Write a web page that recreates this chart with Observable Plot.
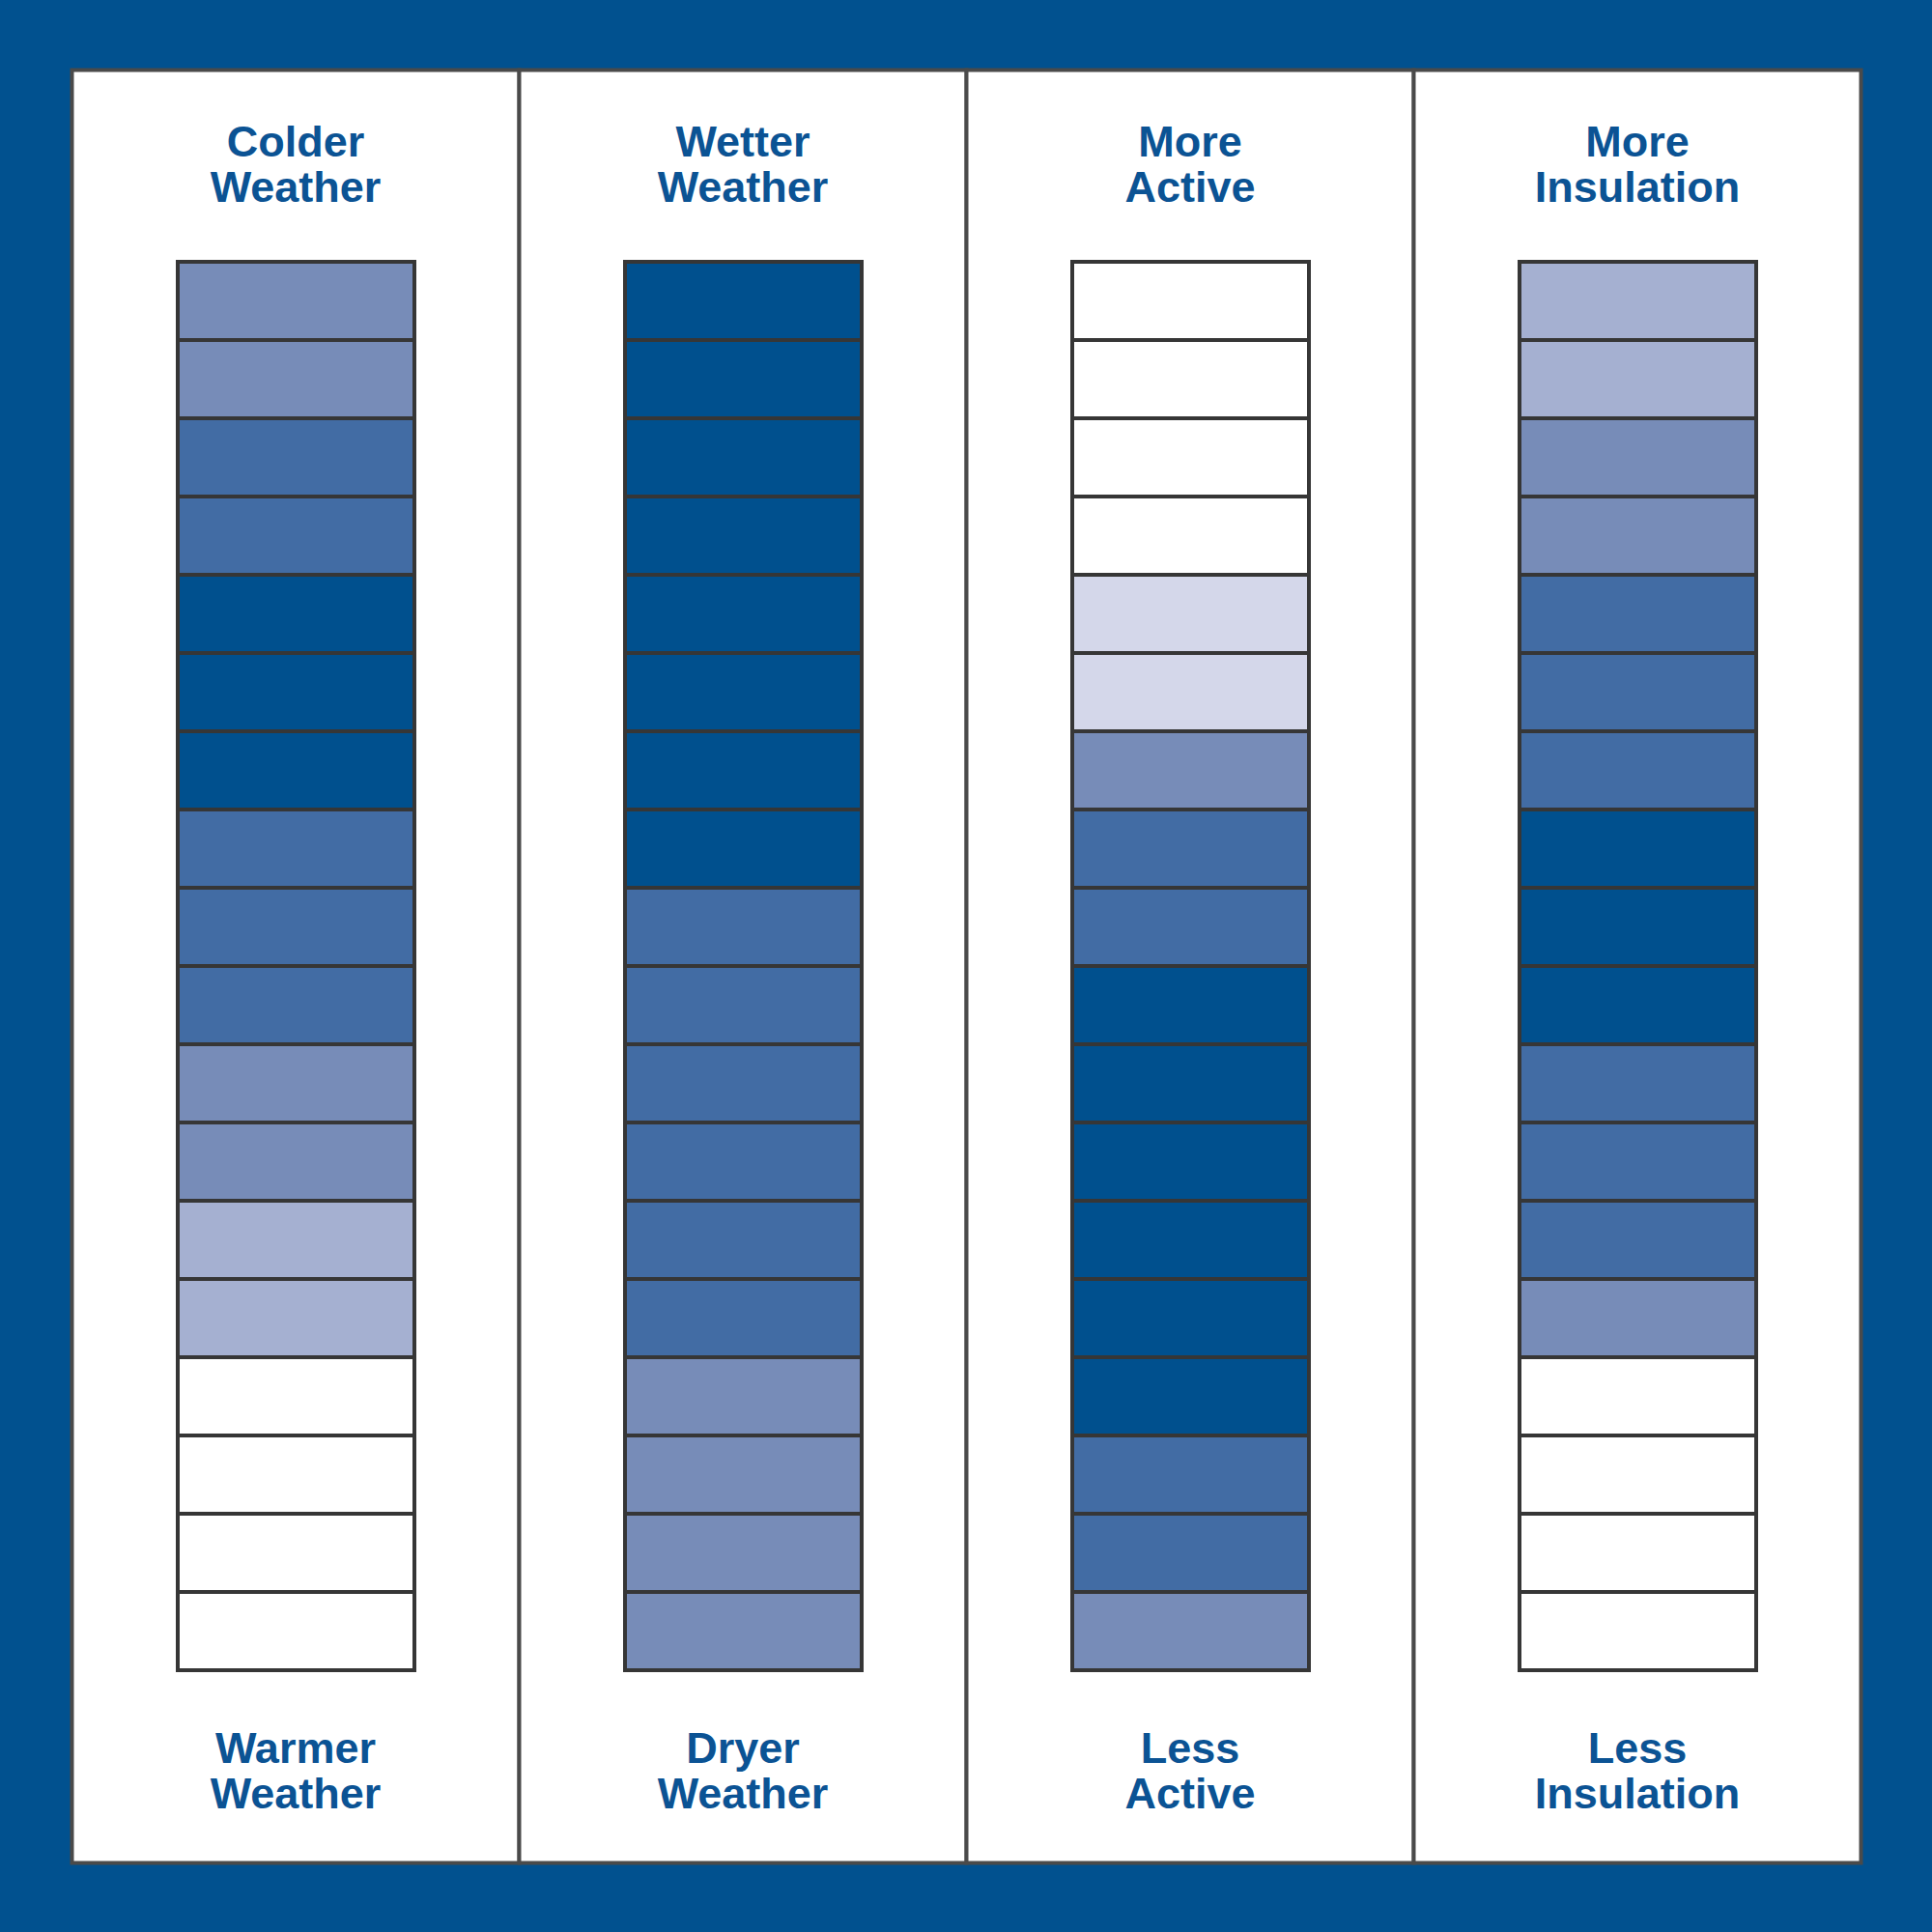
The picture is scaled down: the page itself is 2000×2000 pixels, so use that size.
<!DOCTYPE html>
<html>
<head>
<meta charset="utf-8">
<script src="https://cdn.jsdelivr.net/npm/d3@7"></script>
<script src="https://cdn.jsdelivr.net/npm/@observablehq/plot@0.6"></script>
<style>
  html, body { margin: 0; padding: 0; background: #01518f; }
  #chart svg { display: block; }
</style>
</head>
<body>
<div id="chart"></div>
<script>
// Columns (facets) and their labels
const columns = ["cold", "wet", "active", "insulation"];
const topLabels = ["Colder\nWeather", "Wetter\nWeather", "More\nActive", "More\nInsulation"];
const bottomLabels = ["Warmer\nWeather", "Dryer\nWeather", "Less\nActive", "Less\nInsulation"];

// Shade level of each of the 18 cells, top to bottom (0 = white … 5 = darkest)
const coldLevels       = [3,3,4,4,5,5,5,4,4,4,3,3,2,2,0,0,0,0];
const wetLevels        = [5,5,5,5,5,5,5,5,4,4,4,4,4,4,3,3,3,3];
const activeLevels     = [0,0,0,0,1,1,3,4,4,5,5,5,5,5,5,4,4,3];
const insulationLevels = [2,2,3,3,4,4,4,5,5,5,4,4,4,3,0,0,0,0];

const levels = [0, 1, 2, 3, 4, 5];
const levelColors = ["#ffffff", "#d4d7ea", "#a5b0d1", "#778cb8", "#426ca4", "#00508e"];

const rowCount = 18;
const levelsByColumn = [coldLevels, wetLevels, activeLevels, insulationLevels];

const cells = columns.flatMap((c, i) =>
  levelsByColumn[i].map((v, r) => ({column: c, row: r, level: v}))
);
const topText = columns.map((c, i) => ({column: c, label: topLabels[i]}));
const bottomText = columns.map((c, i) => ({column: c, label: bottomLabels[i]}));

const textStyle = {
  fontSize: 45,
  fontWeight: "bold",
  fill: "#0b5394",
  lineHeight: 1.056,
  lineAnchor: "middle",
  fontFamily: "'Liberation Sans', Arial, sans-serif",
  dx: 0
};

const chart = Plot.plot({
  width: 2000,
  height: 2000,
  marginTop: 267,
  marginBottom: 268,
  marginLeft: 72,
  marginRight: 73,
  style: {background: "#01518f"},
  fx: {domain: columns, padding: 0, axis: null},
  y: {type: "band", domain: d3.range(rowCount), padding: 0, axis: null},
  color: {type: "ordinal", domain: levels, range: levelColors},
  marks: [
    Plot.frame({fill: "white", stroke: "#4a4a4a", strokeWidth: 4, insetTop: -195, insetBottom: -196}),
    Plot.cell(cells, {
      fx: "column", y: "row", fill: "level",
      stroke: "#363636", strokeWidth: 4,
      inset: 0, insetLeft: 110, insetRight: 108
    }),
    Plot.text(topText, {fx: "column", text: "label", frameAnchor: "top", dy: -97, ...textStyle}),
    Plot.text(bottomText, {fx: "column", text: "label", frameAnchor: "bottom", dy: 101, ...textStyle})
  ]
});

document.getElementById("chart").append(chart);
</script>
</body>
</html>
